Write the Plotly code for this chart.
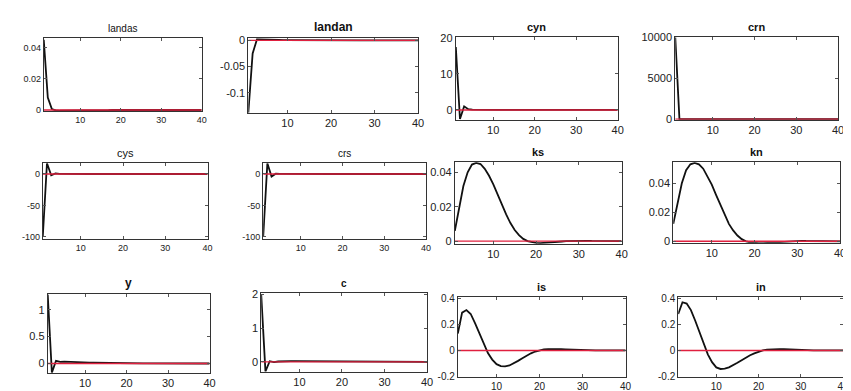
import plotly.graph_objects as go

periods = list(range(1, 41))

def pad(vals, n=40):
    return vals + [0.0] * (n - len(vals))

titles = ["landas", "landan", "cyn", "crn", "cys", "crs", "ks", "kn", "y", "c", "is", "in"]

landas = pad([0.045, 0.008, 0.0006, -0.0003, -0.0005, -0.0005, -0.0005, -0.0004, -0.0004, -0.0003,
              -0.0003, -0.0002, -0.0002, -0.0002, -0.0001, -0.0001, -0.0001])
landan = pad([-0.138, -0.025, 0.002, 0.002, 0.0015, 0.001, 0.0008, 0.0006, 0.0004, 0.0003,
              0.0002, 0.0002, 0.0001, 0.0001])
cyn = pad([17.5, -2.5, 1.0, 0.2, 0.1, 0.05, 0.03, 0.02, 0.01])
crn = pad([10000, 0.0])
cys = pad([-100, 17, -2, 1, 0.3, 0.1, 0.05])
crs = pad([-100, 17, -4, 0.5, 0.2, 0.1, 0.05])
ks = [0.006, 0.02, 0.032, 0.040, 0.0445, 0.0455, 0.0448, 0.042, 0.038, 0.033,
      0.027, 0.021, 0.0155, 0.0105, 0.0065, 0.0035, 0.0013, 0.0000, -0.0007, -0.0010,
      -0.0011, -0.0010, -0.0008, -0.0006, -0.0004, -0.0002, 0.0000, 0.0001, 0.0002, 0.0002,
      0.0002, 0.0002, 0.0001, 0.0001, 0.0, 0.0, 0.0, 0.0, 0.0, 0.0]
kn = [0.012, 0.027, 0.040, 0.049, 0.053, 0.054, 0.053, 0.050, 0.045, 0.039,
      0.032, 0.025, 0.018, 0.012, 0.0075, 0.004, 0.0015, 0.0000, -0.0008, -0.0012,
      -0.0013, -0.0012, -0.0010, -0.0007, -0.0004, -0.0002, 0.0000, 0.0002, 0.0003, 0.0003,
      0.0003, 0.0002, 0.0002, 0.0001, 0.0001, 0.0, 0.0, 0.0, 0.0, 0.0]
y = pad([1.28, -0.17, 0.05, 0.03, 0.035, 0.03, 0.027, 0.024, 0.021, 0.018,
         0.016, 0.014, 0.012, 0.010, 0.009, 0.008, 0.007, 0.006, 0.005, 0.004,
         0.004, 0.003, 0.003, 0.002, 0.002, 0.002, 0.001, 0.001, 0.001, 0.001])
c = pad([2.0, -0.28, 0.02, -0.01, 0.01, 0.02, 0.022, 0.022, 0.021, 0.02,
         0.018, 0.016, 0.014, 0.012, 0.011, 0.01, 0.009, 0.008, 0.007, 0.006,
         0.005, 0.004, 0.004, 0.003, 0.003, 0.002, 0.002, 0.001, 0.001, 0.001])
is_ = pad([0.13, 0.29, 0.31, 0.28, 0.21, 0.13, 0.05, -0.02, -0.07, -0.105,
           -0.12, -0.122, -0.115, -0.10, -0.08, -0.06, -0.04, -0.022, -0.008, 0.002,
           0.008, 0.011, 0.012, 0.012, 0.011, 0.009, 0.007, 0.005, 0.003, 0.002,
           0.001, 0.0005])
in_ = pad([0.28, 0.37, 0.36, 0.31, 0.23, 0.14, 0.05, -0.03, -0.09, -0.13,
           -0.142, -0.14, -0.13, -0.115, -0.095, -0.075, -0.055, -0.037, -0.022, -0.01,
           0.0, 0.006, 0.009, 0.011, 0.011, 0.010, 0.008, 0.006, 0.004, 0.003,
           0.002, 0.001])

series = [landas, landan, cyn, crn, cys, crs, ks, kn, y, c, is_, in_]

y_ranges = [[-0.0006, 0.046], [-0.138, 0.004], [-2.7, 20.2], [-60, 10000],
            [-103, 17], [-103, 17], [-0.0015, 0.0458], [-0.001, 0.0544],
            [-0.17, 1.29], [-0.29, 2.03], [-0.2, 0.41], [-0.2, 0.41]]
y_tickvals = [[0, 0.02, 0.04], [-0.1, -0.05, 0], [0, 10, 20], [0, 5000, 10000],
              [-100, -50, 0], [-100, -50, 0], [0, 0.02, 0.04], [0, 0.02, 0.04],
              [0, 0.5, 1], [0, 1, 2], [-0.2, 0, 0.2, 0.4], [-0.2, 0, 0.2, 0.4]]
y_ticktext = [["0", "0.02", "0.04"], ["-0.1", "-0.05", "0"], ["0", "10", "20"],
              ["0", "5000", "10000"], ["-100", "-50", "0"], ["-100", "-50", "0"],
              ["0", "0.02", "0.04"], ["0", "0.02", "0.04"], ["0", "0.5", "1"],
              ["0", "1", "2"], ["-0.2", "0", "0.2", "0.4"], ["-0.2", "0", "0.2", "0.4"]]
x_tickvals = [10, 20, 30, 40]
x_ticktext = ["10", "20", "30", "40"]

# panel boxes in pixels: left, right, top, bottom
W, H = 851, 391
boxes = [(36, 195, 25, 100), (242, 413, 25, 102), (451, 614, 24, 109), (672, 836, 24, 109),
         (35, 201, 154, 232), (257, 421, 154, 232), (450, 618, 153, 237), (670, 838, 153, 236),
         (40, 203, 289, 370), (255, 422, 288, 369), (453, 622, 292, 374), (675, 841, 292, 374)]
# (title size, bold, tick size)
styles = [(10, False, 9), (12, True, 11), (11, True, 11), (11, True, 11),
          (11, False, 9), (10, False, 9), (11, True, 11), (11, True, 11),
          (12, True, 11), (10, True, 11), (11, True, 10), (11, True, 10)]

fig = go.Figure()
layout = dict(width=W, height=H, margin=dict(l=0, r=0, t=0, b=0),
              paper_bgcolor="white", plot_bgcolor="white", showlegend=False,
              font=dict(family="Liberation Sans, Arial, sans-serif", color="#222"))
annotations = []
for i, (vals, ttl) in enumerate(zip(series, titles)):
    k = i + 1
    xs = "x" if k == 1 else f"x{k}"
    ys = "y" if k == 1 else f"y{k}"
    fig.add_trace(go.Scatter(x=periods, y=vals, mode="lines", xaxis=xs, yaxis=ys,
                             line=dict(color="#111", width=1.8), hoverinfo="skip"))
    fig.add_trace(go.Scatter(x=periods, y=[0.0] * len(periods), mode="lines", xaxis=xs, yaxis=ys,
                             line=dict(color="#e0203f", width=1.4), hoverinfo="skip"))
    l, r, t, b = boxes[i]
    ts, bold, tks = styles[i]
    common = dict(showline=True, linecolor="#333", linewidth=1, mirror="ticks",
                  ticks="inside", ticklen=3, tickcolor="#555", showgrid=False,
                  zeroline=False, tickfont=dict(size=tks, color="#222"))
    layout[f"xaxis{k}"] = dict(domain=[l / W, r / W], range=[1, 40], tickvals=x_tickvals,
                               ticktext=x_ticktext, anchor=ys, **common)
    layout[f"yaxis{k}"] = dict(domain=[1 - b / H, 1 - t / H], range=y_ranges[i],
                               tickvals=y_tickvals[i], ticktext=y_ticktext[i], anchor=xs,
                               **common)
    annotations.append(dict(text=f"<b>{ttl}</b>" if bold else ttl, x=(l + r) / 2 / W,
                            y=1 - (t - 2) / H, xref="paper", yref="paper",
                            xanchor="center", yanchor="bottom", showarrow=False,
                            font=dict(size=ts, color="#111")))
layout["annotations"] = annotations
fig.update_layout(**layout)
fig.write_html("out.html")
